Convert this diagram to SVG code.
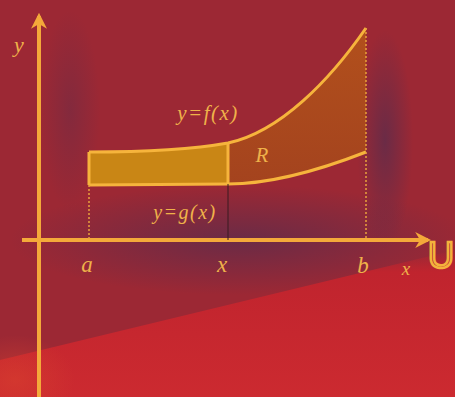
<svg xmlns="http://www.w3.org/2000/svg" width="455" height="397" viewBox="0 0 455 397">
<defs>
<style>
.ax{stroke:#f4a93a;stroke-width:4;fill:none}
.cv{stroke:#f6b43c;stroke-width:3;fill:none}
.dot{stroke:#e9a13c;stroke-width:1.5;stroke-dasharray:2 2;fill:none}
.lb{font-family:"Liberation Serif",serif;font-style:italic;fill:#efb24a}
</style>
<marker id="ah" viewBox="0 0 10 10" refX="8" refY="5" markerWidth="4" markerHeight="4" orient="auto">
<path d="M0,0 L10,5 L0,10 L3,5 Z" fill="#f4a93a"/>
</marker>
<radialGradient id="sh" cx="0.5" cy="0.5" r="0.5">
<stop offset="0" stop-color="#5a2c4c" stop-opacity="0.75"/>
<stop offset="1" stop-color="#5a2c4c" stop-opacity="0"/>
</radialGradient>
<radialGradient id="lt" cx="0.5" cy="0.5" r="0.5">
<stop offset="0" stop-color="#d8402e" stop-opacity="0.6"/>
<stop offset="1" stop-color="#d8402e" stop-opacity="0"/>
</radialGradient>
<linearGradient id="red" x1="0" y1="0" x2="0" y2="1">
<stop offset="0" stop-color="#c0242e" stop-opacity="0"/>
<stop offset="0.15" stop-color="#c0242e"/>
<stop offset="1" stop-color="#cc2a30"/>
</linearGradient>
<linearGradient id="rgt" x1="0" y1="0" x2="0" y2="1">
<stop offset="0" stop-color="#b2501c"/>
<stop offset="1" stop-color="#a4431e"/>
</linearGradient>
</defs>
<rect width="455" height="397" fill="#9c2834"/>
<ellipse cx="240" cy="240" rx="230" ry="55" fill="url(#sh)"/>
<ellipse cx="385" cy="140" rx="28" ry="110" fill="url(#sh)"/>
<ellipse cx="70" cy="110" rx="30" ry="100" fill="url(#sh)" opacity="0.5"/>
<path d="M0,360 L455,250 L455,397 L0,397 Z" fill="url(#red)"/>
<ellipse cx="15" cy="380" rx="60" ry="45" fill="url(#lt)"/>

<g id="region">
<path d="M89,152 C150,152 200,148 228,143 L228,184 L89,185 Z" fill="#c98615"/>
<path d="M228,143 C280,132 330,80 366,28 L366,152 C320,170 270,184 228,184 Z" fill="url(#rgt)"/>
</g>

<g id="connectors">
<line class="ax" x1="39" y1="397" x2="39" y2="16" marker-end="url(#ah)"/>
<line class="ax" x1="22" y1="240" x2="428" y2="240" marker-end="url(#ah)"/>
<path class="cv" d="M89,152 C150,152 200,148 228,143 C280,132 330,80 366,28"/>
<path class="cv" d="M89,185 L228,184 C270,184 320,170 366,152"/>
<line class="cv" x1="89" y1="152" x2="89" y2="185" stroke-width="2"/>
<line class="cv" x1="228" y1="143" x2="228" y2="184" stroke-width="2.5"/>
<line class="dot" x1="89" y1="185" x2="89" y2="240"/>
<line x1="228" y1="184" x2="228" y2="240" stroke="#3a1a20" stroke-width="1"/>
<line class="dot" x1="366" y1="28" x2="366" y2="240"/>
</g>

<g id="labels">
<text class="lb" x="14" y="52" font-size="22">y</text>
<text class="lb" x="208" y="120" font-size="21" text-anchor="middle" letter-spacing="1.5">y=f(x)</text>
<text class="lb" x="262" y="162" font-size="21" text-anchor="middle">R</text>
<text class="lb" x="185" y="219" font-size="20" text-anchor="middle" letter-spacing="1.5">y=g(x)</text>
<text class="lb" x="87" y="272" font-size="23" text-anchor="middle">a</text>
<text class="lb" x="222" y="272" font-size="23" text-anchor="middle">x</text>
<text class="lb" x="363" y="273" font-size="23" text-anchor="middle">b</text>
<text class="lb" x="406" y="275" font-size="19" text-anchor="middle" fill="#f09a3a">x</text>
<text x="428" y="268" font-family="Liberation Sans,sans-serif" font-size="36" fill="none" stroke="#f4b23c" stroke-width="2.5">U</text>
</g>
</svg>
